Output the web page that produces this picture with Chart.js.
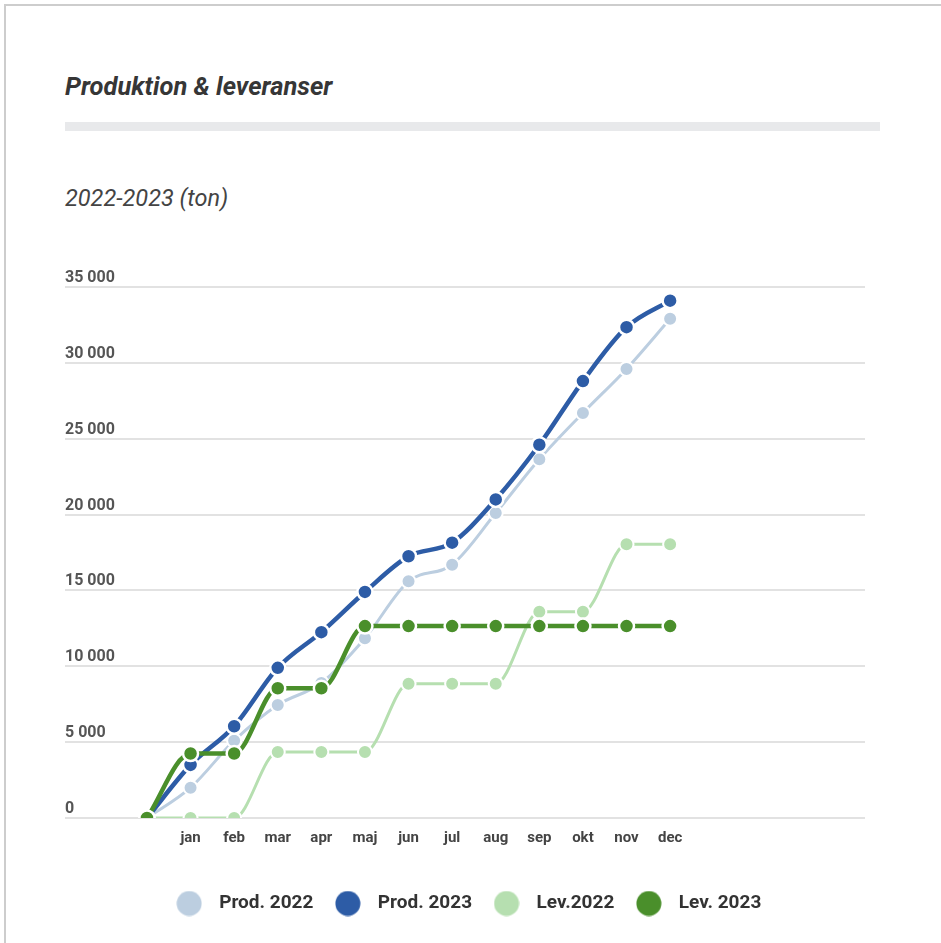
<!DOCTYPE html>
<html>
<head>
<meta charset="utf-8">
<script src="https://cdn.jsdelivr.net/npm/chart.js@4"></script>
<style>
  html, body { margin: 0; padding: 0; background: #fff; overflow: hidden; }
  body { width: 941px; height: 943px; position: relative; font-family: Roboto, sans-serif; }
  .ram { position: absolute; left: 4px; top: 4px; width: 1000px; height: 1000px; border: 2px solid #cdcdcd; }
  h1 { position: absolute; left: 65px; top: 71px; margin: 0; font-size: 25.5px; line-height: 30px;
       font-weight: 700; font-style: italic; color: #363636; letter-spacing: 0; }
  .linje { position: absolute; left: 65px; top: 122px; width: 815px; height: 9px; background: #e8e9eb; }
  h2 { position: absolute; left: 65px; top: 184px; margin: 0; font-size: 23.5px; line-height: 28px;
       font-weight: 400; font-style: italic; color: #444; }
  .graf { position: absolute; left: 0; top: 240px; width: 941px; height: 703px; }
</style>
</head>
<body>
<div class="ram"></div>
<h1>Produktion &amp; leveranser</h1>
<div class="linje"></div>
<h2>2022-2023 (ton)</h2>
<div class="graf"><canvas id="chart"></canvas></div>

<script>
// Data (ton, ackumulerat)
const manader = ["", "jan", "feb", "mar", "apr", "maj", "jun", "jul", "aug", "sep", "okt", "nov", "dec"];
const prod2022 = [0, 2000, 5100, 7450, 8900, 11850, 15600, 16700, 20100, 23650, 26700, 29600, 32900];
const prod2023 = [0, 3500, 6050, 9900, 12250, 14900, 17250, 18150, 21000, 24600, 28800, 32350, 34100];
const lev2022 = [0, 0, 0, 4350, 4350, 4350, 8850, 8850, 8850, 13600, 13600, 18050, 18050];
const lev2023 = [0, 4250, 4250, 8550, 8550, 12650, 12650, 12650, 12650, 12650, 12650, 12650, 12650];
const yTicks = [0, 5000, 10000, 15000, 20000, 25000, 30000, 35000];

const farger = {
  prod2022: "#bccee0",
  prod2023: "#2d5ca6",
  lev2022: "#b6dfb0",
  lev2023: "#4a8f2b"
};

const tusen = v => String(v).replace(/\B(?=(\d{3})+(?!\d))/g, " ");
const punkter = arr => arr.map((v, i) => ({ x: i, y: v }));

// runda symboler till legenden
function cirkel(farg) {
  const c = document.createElement("canvas");
  c.width = 26; c.height = 26;
  const g = c.getContext("2d");
  g.fillStyle = farg;
  g.beginPath();
  g.arc(13, 13, 12.5, 0, Math.PI * 2);
  g.fill();
  return c;
}

function serie(label, data, farg, tjock, ordning) {
  return {
    label: label,
    data: punkter(data),
    borderColor: farg,
    backgroundColor: farg,
    borderWidth: tjock ? 4.5 : 3,
    pointRadius: tjock ? 7.5 : 7,
    pointBorderWidth: tjock ? 2.5 : 2,
    pointBorderColor: "#fff",
    pointBackgroundColor: farg,
    cubicInterpolationMode: "monotone",
    order: ordning,
    legendBild: cirkel(farg)
  };
}

const ctx = document.getElementById("chart");

new Chart(ctx, {
  type: "line",
  data: {
    datasets: [
      serie("Prod. 2022", prod2022, farger.prod2022, false, 2),
      serie("Prod. 2023", prod2023, farger.prod2023, true, 1),
      serie("Lev.2022", lev2022, farger.lev2022, false, 3),
      serie("Lev. 2023", lev2023, farger.lev2023, true, 0)
    ]
  },
  options: {
    responsive: true,
    maintainAspectRatio: false,
    animation: false,
    layout: { padding: { top: 47, left: 65, right: 76, bottom: 20 } },
    scales: {
      x: {
        type: "linear",
        min: -1.88,
        max: 16.47,
        afterBuildTicks: s => { s.ticks = manader.map((m, i) => ({ value: i })); },
        afterFit: s => { s.height = 62; },
        grid: { display: false },
        border: { display: false },
        ticks: {
          autoSkip: false,
          maxRotation: 0,
          padding: 3,
          color: "#444",
          font: { family: "Roboto", size: 15, weight: "bold" },
          callback: v => manader[v] ?? ""
        }
      },
      y: {
        min: 0,
        max: 35000,
        afterBuildTicks: s => { s.ticks = yTicks.map(v => ({ value: v })); },
        grid: { color: "#e2e2e2", lineWidth: 2, drawTicks: false },
        border: { display: false },
        ticks: {
          mirror: true,
          padding: 0,
          labelOffset: -9,
          color: "#555",
          font: { family: "Roboto", size: 16, weight: "bold" },
          callback: v => tusen(v)
        }
      }
    },
    plugins: {
      tooltip: { enabled: false },
      legend: {
        position: "bottom",
        labels: {
          usePointStyle: true,
          pointStyleWidth: 41,
          padding: 14,
          color: "#333",
          font: { family: "Roboto", size: 19, weight: "bold" },
          sort: (a, b) => a.datasetIndex - b.datasetIndex,
          generateLabels: chart => {
            const items = Chart.defaults.plugins.legend.labels.generateLabels(chart);
            items.forEach(it => { it.pointStyle = chart.data.datasets[it.datasetIndex].legendBild; });
            return items;
          }
        }
      }
    }
  }
});
</script>
</body>
</html>
